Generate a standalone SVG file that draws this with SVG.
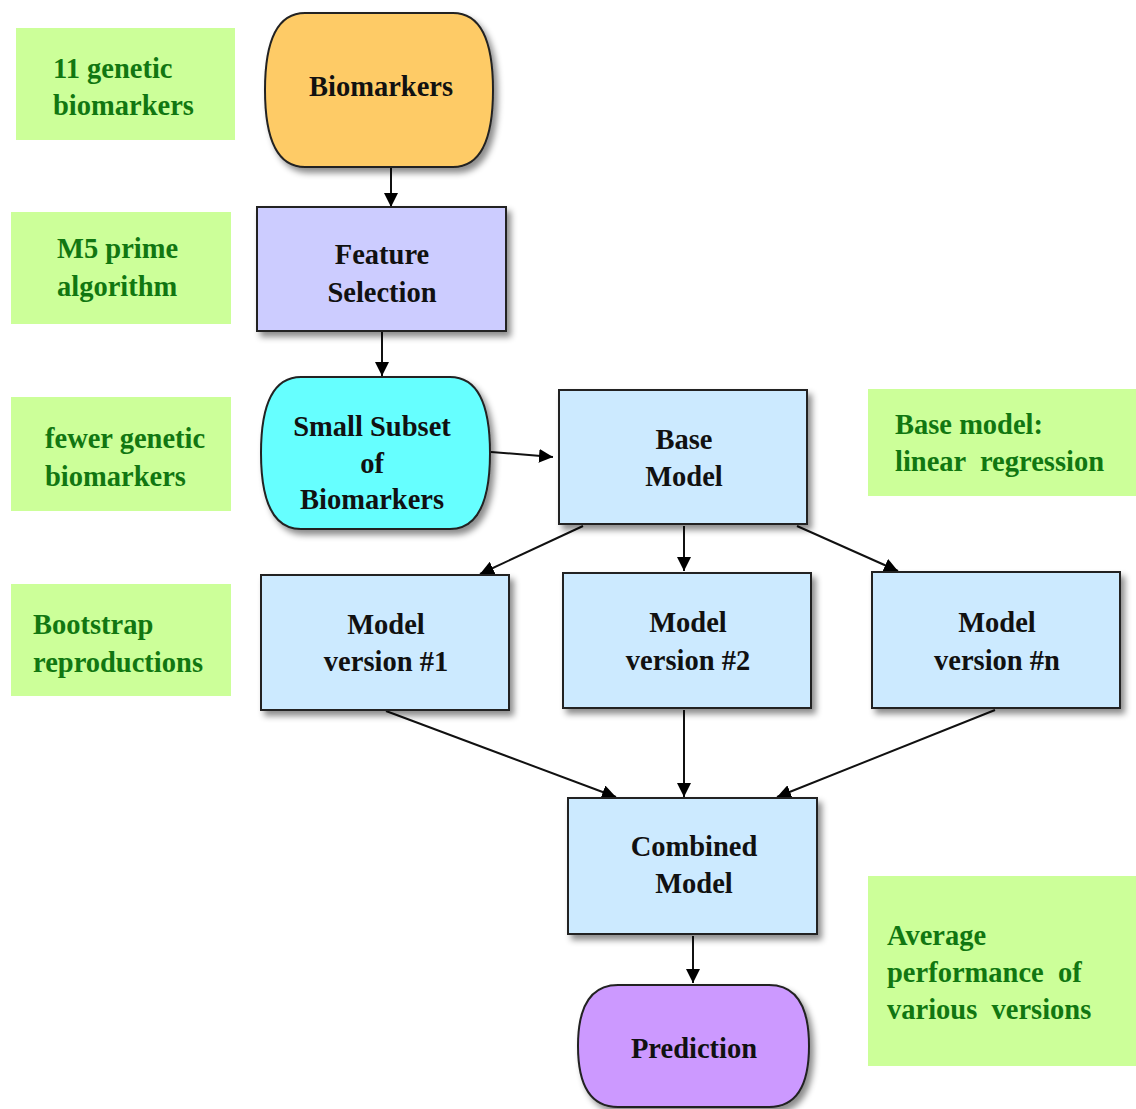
<svg xmlns="http://www.w3.org/2000/svg" width="1136" height="1109" viewBox="0 0 1136 1109">
<defs>
<filter id="sh" x="-10%" y="-10%" width="130%" height="130%">
<feDropShadow dx="4" dy="5" stdDeviation="3" flood-color="#000" flood-opacity="0.45"/>
</filter>
<marker id="ah" viewBox="0 0 10 10" refX="10" refY="5" markerWidth="14" markerHeight="14" markerUnits="userSpaceOnUse" orient="auto">
<path d="M0,0 L10,5 L0,10 z" fill="#000"/>
</marker>
</defs>
<style>
.note{fill:#CCFF99;}
.nt{font-family:"Liberation Serif","Times New Roman",serif;font-weight:bold;font-size:28.5px;fill:#117711;}
.box{stroke:#222;stroke-width:2;filter:url(#sh);}
.blue{fill:#CCEAFF;}
.lbl{font-family:"Liberation Serif","Times New Roman",serif;font-weight:bold;font-size:28.5px;fill:#111;text-anchor:middle;}
.con{stroke:#111;stroke-width:2;fill:none;marker-end:url(#ah);}
</style>
<rect width="1136" height="1109" fill="#fff"/>

<g id="note1"><rect class="note" x="16" y="28" width="219" height="112"/>
<text class="nt" x="53" y="78">11 genetic</text><text class="nt" x="53" y="115">biomarkers</text></g>
<g id="note2"><rect class="note" x="11" y="212" width="220" height="112"/>
<text class="nt" x="57" y="258">M5 prime</text><text class="nt" x="57" y="296">algorithm</text></g>
<g id="note3"><rect class="note" x="11" y="397" width="220" height="114"/>
<text class="nt" x="45" y="448">fewer genetic</text><text class="nt" x="45" y="486">biomarkers</text></g>
<g id="note4"><rect class="note" x="11" y="584" width="220" height="112"/>
<text class="nt" x="33" y="634">Bootstrap</text><text class="nt" x="33" y="672">reproductions</text></g>
<g id="note5"><rect class="note" x="868" y="389" width="268" height="107"/>
<text class="nt" x="895" y="434" xml:space="preserve">Base model:</text><text class="nt" x="895" y="471" xml:space="preserve">linear  regression</text></g>
<g id="note6"><rect class="note" x="868" y="876" width="268" height="190"/>
<text class="nt" x="887" y="945">Average</text><text class="nt" x="887" y="982" xml:space="preserve">performance  of</text><text class="nt" x="887" y="1019" xml:space="preserve">various  versions</text></g>

<g id="connectors">
<line class="con" x1="391" y1="168" x2="391" y2="207"/>
<line class="con" x1="382" y1="332" x2="382" y2="376"/>
<line class="con" x1="491" y1="452" x2="553" y2="457"/>
<line class="con" x1="583" y1="526" x2="480" y2="574"/>
<line class="con" x1="684" y1="526" x2="684" y2="571"/>
<line class="con" x1="797" y1="526" x2="898" y2="571"/>
<line class="con" x1="386" y1="711" x2="616" y2="797"/>
<line class="con" x1="684" y1="710" x2="684" y2="797"/>
<line class="con" x1="995" y1="710" x2="777" y2="797"/>
<line class="con" x1="693" y1="936" x2="693" y2="983"/>
</g>

<g id="biomarkers"><path class="box" fill="#FECB66" d="M305,13 H453 Q493,13 493,90 Q493,167 453,167 H305 Q265,167 265,90 Q265,13 305,13 Z"/>
<text class="lbl" x="381" y="96">Biomarkers</text></g>
<g id="feature"><rect class="box" fill="#CCCCFF" x="257" y="207" width="249" height="124"/>
<text class="lbl" x="382" y="264">Feature</text><text class="lbl" x="382" y="302">Selection</text></g>
<g id="subset"><path class="box" fill="#66FFFF" d="M301,377 H450 Q490,377 490,453 Q490,529 450,529 H301 Q261,529 261,453 Q261,377 301,377 Z"/>
<text class="lbl" x="372" y="436">Small Subset</text><text class="lbl" x="372" y="473">of</text><text class="lbl" x="372" y="509">Biomarkers</text></g>
<g id="base"><rect class="box blue" x="559" y="390" width="248" height="134"/>
<text class="lbl" x="684" y="449">Base</text><text class="lbl" x="684" y="486">Model</text></g>
<g id="v1"><rect class="box blue" x="261" y="575" width="248" height="135"/>
<text class="lbl" x="386" y="634">Model</text><text class="lbl" x="386" y="671">version #1</text></g>
<g id="v2"><rect class="box blue" x="563" y="573" width="248" height="135"/>
<text class="lbl" x="688" y="632">Model</text><text class="lbl" x="688" y="670">version #2</text></g>
<g id="vn"><rect class="box blue" x="872" y="572" width="248" height="136"/>
<text class="lbl" x="997" y="632">Model</text><text class="lbl" x="997" y="670">version #n</text></g>
<g id="combined"><rect class="box blue" x="568" y="798" width="249" height="136"/>
<text class="lbl" x="694" y="856">Combined</text><text class="lbl" x="694" y="893">Model</text></g>
<g id="prediction"><path class="box" fill="#CC99FF" d="M618,985 H769 Q809,985 809,1046 Q809,1107 769,1107 H618 Q578,1107 578,1046 Q578,985 618,985 Z"/>
<text class="lbl" x="694" y="1058">Prediction</text></g>
</svg>
